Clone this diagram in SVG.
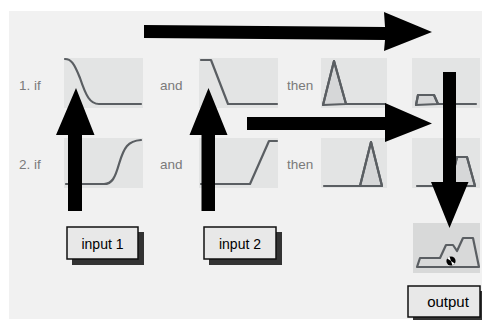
<svg xmlns="http://www.w3.org/2000/svg" width="482" height="320" viewBox="0 0 482 320">
<style>
.panel{fill:#e3e4e4}
.curve{fill:none;stroke:#5a5e62;stroke-width:2.2;stroke-linejoin:round;stroke-linecap:round}
.area{fill:#d6d7d8;stroke:#5a5e62;stroke-width:2.2;stroke-linejoin:round}
.lbl{font-family:"Liberation Sans",Arial,sans-serif;font-size:13.5px;fill:#7a7a7a}
.box{fill:#e8e8e8;stroke:#111;stroke-width:1.5}
.shadow{fill:#333}
.btxt{font-family:"Liberation Sans",Arial,sans-serif;font-size:14px;fill:#000;text-anchor:middle}
.arrow{fill:#000}
</style>
<rect x="0" y="0" width="482" height="320" fill="#fff"/>
<rect x="9" y="11" width="473" height="308" fill="#f1f1f1"/>

<g id="row1">
  <text class="lbl" x="19" y="90">1. if</text>
  <text class="lbl" x="160" y="90">and</text>
  <text class="lbl" x="287" y="90">then</text>
  <g id="r1-in1">
    <rect class="panel" x="64" y="58" width="79" height="50"/>
    <path class="curve" d="M65,59 C71,59 74,63 80,78 C86,96 90,104 99,104 L141,104"/>
  </g>
  <g id="r1-in2">
    <rect class="panel" x="199" y="58" width="79" height="50"/>
    <path class="curve" d="M201,60 L211,60 L228,104 L277,104"/>
  </g>
  <g id="r1-then">
    <rect class="panel" x="321" y="58" width="66" height="50"/>
    <path class="area" d="M323,105 L334,61 L346,104 Z"/>
    <path class="curve" d="M323,105 L334,61 L346,104 L385,104"/>
  </g>
  <g id="r1-out">
    <rect class="panel" x="412" y="58" width="68" height="50"/>
    <path class="area" d="M416,105 L418,95 L434,95 L438,104 Z"/>
    <path class="curve" d="M416,105 L418,95 L434,95 L438,104 L476,104"/>
  </g>
</g>

<g id="row2">
  <text class="lbl" x="19" y="169">2. if</text>
  <text class="lbl" x="160" y="169">and</text>
  <text class="lbl" x="287" y="169">then</text>
  <g id="r2-in1">
    <rect class="panel" x="64" y="138" width="79" height="50"/>
    <path class="curve" d="M66,184 L104,184 C112,184 115,178 119,164 C124,147 128,141 141,140"/>
  </g>
  <g id="r2-in2">
    <rect class="panel" x="199" y="138" width="79" height="50"/>
    <path class="curve" d="M201,184 L250,184 L269,141 L277,141"/>
  </g>
  <g id="r2-then">
    <rect class="panel" x="321" y="138" width="66" height="50"/>
    <path class="area" d="M360,186 L371,142 L382,186 Z"/>
    <path class="curve" d="M324,186 L360,186 L371,142 L382,186"/>
  </g>
  <g id="r2-out">
    <rect class="panel" x="412" y="138" width="68" height="50"/>
    <path class="area" d="M450,186 L457,157 L467,157 L475,186 Z"/>
    <path class="curve" d="M417,186 L450,186 L457,157 L467,157 L475,186"/>
  </g>
</g>

<g id="result">
  <rect x="413" y="223" width="67" height="50" fill="#d8d9d9"/>
  <path d="M417,267 L420,258 L440,258 L446,245 L453,245 L457,251 L463,238 L473,238 L479,267 Z" fill="#d8d9d9" stroke="#5a5e62" stroke-width="2.2" stroke-linejoin="round"/>
  <circle cx="451" cy="261" r="4.6" fill="#000"/>
  <path d="M451,261 L447.2,258.4 A4.6,4.6 0 0 1 449.5,256.6 Z" fill="#fff"/>
  <path d="M451,261 L454.8,263.6 A4.6,4.6 0 0 1 452.5,265.4 Z" fill="#fff"/>
</g>

<g id="input1">
  <rect class="shadow" x="72" y="232" width="72" height="33"/>
  <rect class="box" x="67" y="227" width="71" height="32"/>
  <text class="btxt" x="102.5" y="248.5">input 1</text>
</g>
<g id="input2">
  <rect class="shadow" x="209" y="232" width="73" height="33"/>
  <rect class="box" x="204" y="227" width="72" height="32"/>
  <text class="btxt" x="240" y="248.5">input 2</text>
</g>
<g id="output">
  <rect class="shadow" x="413" y="291" width="72" height="33"/>
  <rect class="box" x="408" y="286" width="72" height="31"/>
  <text class="btxt" x="448" y="306.5" style="font-size:15px">output</text>
</g>

<g id="connectors">
  <polygon class="arrow" points="144,25 385,27 384,12 432,32 384,51 385,40 144,38"/>
  <polygon class="arrow" points="247,117 385,117 385,103 432,123.5 385,142 385,130 247,130"/>
  <polygon class="arrow" points="68,211 68,135 56,135 76,88 94.5,135 82,135 82,211"/>
  <polygon class="arrow" points="201.5,211 201.5,135 189.5,135 208.5,88 227.5,135 215,135 215,211"/>
  <polygon class="arrow" points="443,72 456,72 456,182 468.5,182 449.5,228 431,182 443,182"/>
</g>
</svg>
